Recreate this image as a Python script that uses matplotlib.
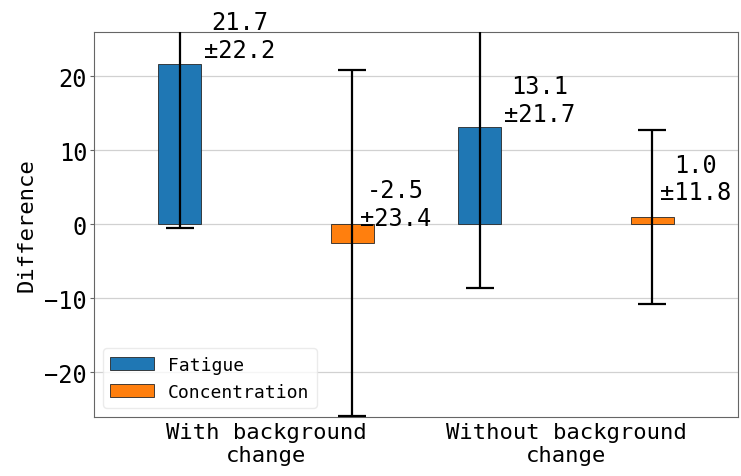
import matplotlib.pyplot as plt
import numpy as np

plt.rcParams['font.family'] = ['DejaVu Sans Mono', 'DejaVu Sans']

# moyennes et écarts-types de la différence (après - avant)
conditions = ["With background\nchange", "Without background\nchange"]
series = ["Fatigue", "Concentration"]
fatigue_mean = [21.7, 13.1]
fatigue_std = [22.2, 21.7]
concentration_mean = [-2.5, 1.0]
concentration_std = [23.4, 11.8]

colors = ["#1f77b4", "#ff7f0e"]

fig = plt.figure(figsize=(7.41, 4.77), dpi=100)
ax = fig.add_axes([0.127, 0.124, 0.869, 0.807])

x = np.arange(len(conditions))
offset = 0.2875
width = 0.143

means = [fatigue_mean, concentration_mean]
stds = [fatigue_std, concentration_std]
shift = [-offset, offset]
# position des étiquettes (décalage x, décalage y par rapport à la moyenne)
txt_dx = [0.2, 0.145]
txt_dy = [3.75, 5.2]

for k in range(2):
    pos = x + shift[k]
    ax.bar(pos, means[k], width, color=colors[k], edgecolor="0.15",
           linewidth=0.6, label=series[k], zorder=2)
    ax.errorbar(pos, means[k], yerr=stds[k], fmt="none", ecolor="black",
                elinewidth=1.6, capsize=10, capthick=1.6, zorder=3)
    for i in range(len(conditions)):
        ax.text(pos[i] + txt_dx[k], means[k][i] + txt_dy[k],
                "{:.1f}\n±{:.1f}".format(means[k][i], stds[k][i]),
                ha="center", va="center", multialignment="center",
                fontsize=17, linespacing=1.2, zorder=4)

ax.set_xticks(x)
ax.set_xticklabels(conditions, fontsize=16, linespacing=1.15)
ax.tick_params(axis="x", length=0, pad=4)
ax.set_yticks([-20, -10, 0, 10, 20])
ax.tick_params(axis="y", labelsize=17, length=3, pad=2, color="0.4")
ax.set_ylabel("Difference", fontsize=16, labelpad=6)

ax.set_xlim(-0.573, 1.573)
ax.set_ylim(-26, 26)
ax.set_axisbelow(True)
ax.yaxis.grid(True, color="0.82", linewidth=0.9)
for s in ax.spines.values():
    s.set_color("0.4")

ax.legend(loc="lower left", fontsize=13, framealpha=0.8, edgecolor="0.9",
          handlelength=2.4)

fig.savefig("out.png", dpi=100)
